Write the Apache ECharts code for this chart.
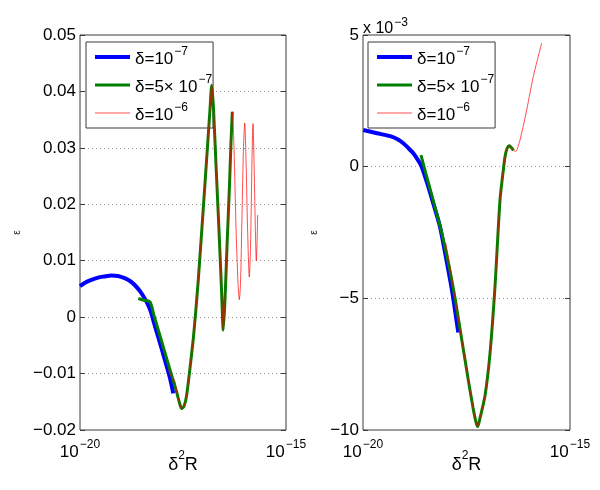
<!DOCTYPE html>
<html><head><meta charset="utf-8">
<script src="https://cdn.jsdelivr.net/npm/echarts@6/dist/echarts.min.js"></script>
<style>html,body{margin:0;padding:0;background:#fff}#c{width:600px;height:490px}</style>
</head><body><div id="c"></div>
<script>
// ---- data (x stored as log10 of δ²R) ----
const seriesNames = ['δ=10^−7', 'δ=5× 10^−7', 'δ=10^−6'];
const xTickExponents = [-20, -15];
const leftYTicks = [-0.02, -0.01, 0, 0.01, 0.02, 0.03, 0.04, 0.05];
const rightYTicks = [-10, -5, 0, 5];   // in units of 1e-3

// left panel
const leftBlueLogX = [-20.000,-19.879,-19.726,-19.563,-19.417,-19.240,-19.078,-18.915,-18.786,-18.672,-18.544,-18.430,-18.350,-18.277,-18.204,-18.131,-18.058,-17.978,-17.888,-17.816,-17.735];
const leftBlueY    = [0.0055,0.0061,0.0066,0.0070,0.0072,0.0074,0.0073,0.0069,0.0064,0.0057,0.0046,0.0033,0.0022,0.0009,-0.0010,-0.0028,-0.0046,-0.0066,-0.0089,-0.0108,-0.0135];
const leftGreenLogX = [-18.585,-18.447,-18.301,-18.204,-18.107,-18.010,-17.913,-17.816,-17.718,-17.646,-17.585,-17.532,-17.476,-17.415,-17.354,-17.306,-17.250,-17.197,-17.129,-17.015,-16.917,-16.845,-16.803,-16.760,-16.699,-16.627,-16.566,-16.522,-16.481,-16.432,-16.371,-16.335,-16.303];
const leftGreenY    = [0.0033,0.0030,0.0027,0.0003,-0.0021,-0.0045,-0.0069,-0.0093,-0.0117,-0.0135,-0.0152,-0.0162,-0.0158,-0.0140,-0.0105,-0.0075,-0.0038,0.0005,0.0066,0.0185,0.0290,0.0368,0.0411,0.0370,0.0270,0.0155,0.0050,-0.0023,0.0030,0.0125,0.0235,0.0310,0.0364];
const leftRedLogX = [-17.864,-17.774,-17.718,-17.682,-17.646,-17.585,-17.532,-17.476,-17.415,-17.354,-17.306,-17.250,-17.197,-17.129,-17.015,-16.917,-16.845,-16.803,-16.760,-16.699,-16.627,-16.566,-16.522,-16.481,-16.432,-16.371,-16.335,-16.303,-16.262,-16.214,-16.165,-16.133,-16.104,-16.068,-16.032,-16.002,-15.971,-15.934,-15.891,-15.862,-15.825,-15.801,-15.777,-15.745,-15.721,-15.704,-15.687];
const leftRedY    = [-0.0093,-0.0106,-0.0110,-0.0118,-0.0135,-0.0152,-0.0162,-0.0158,-0.0140,-0.0105,-0.0075,-0.0038,0.0005,0.0066,0.0185,0.0290,0.0368,0.0411,0.0370,0.0270,0.0155,0.0050,-0.0023,0.0030,0.0125,0.0235,0.0310,0.0364,0.0300,0.0160,0.0060,0.0031,0.0060,0.0180,0.0300,0.0344,0.0280,0.0160,0.0071,0.0120,0.0280,0.0343,0.0280,0.0160,0.0100,0.0130,0.0181];

// right panel (values in units of 1e-3)
const rightBlueLogX = [-19.993,-19.662,-19.307,-19.155,-19.027,-18.913,-18.785,-18.671,-18.582,-18.423,-18.302,-18.140,-17.978,-17.850,-17.698];
const rightBlueY    = [1.39,1.27,1.14,1.03,0.89,0.72,0.51,0.25,0.00,-0.76,-1.40,-2.28,-3.60,-4.70,-6.30];
const rightGreenLogX = [-18.599,-18.478,-18.357,-18.237,-18.116,-17.978,-17.874,-17.778,-17.616,-17.457,-17.343,-17.271,-17.229,-17.174,-17.053,-16.932,-16.812,-16.691,-16.611,-16.570,-16.522,-16.466,-16.413,-16.365];
const rightGreenY    = [0.44,-0.28,-0.98,-1.68,-2.40,-3.35,-4.15,-4.98,-6.55,-8.10,-9.15,-9.70,-9.87,-9.55,-8.70,-7.09,-4.56,-1.27,-0.13,0.38,0.68,0.79,0.72,0.62];
const rightRedLogX = [-18.002,-17.899,-17.778,-17.616,-17.457,-17.343,-17.271,-17.229,-17.174,-17.053,-16.932,-16.812,-16.691,-16.611,-16.570,-16.522,-16.466,-16.413,-16.365,-16.312,-16.256,-16.208,-16.135,-16.046,-15.966,-15.886,-15.797,-15.684];
const rightRedY    = [-2.89,-3.80,-4.98,-6.55,-8.10,-9.15,-9.70,-9.87,-9.55,-8.70,-7.09,-4.56,-1.27,-0.13,0.38,0.68,0.79,0.72,0.62,0.57,0.75,1.01,1.50,2.15,2.80,3.42,4.00,4.69];

// ---- build ----
const pairs = (lx, y) => lx.map((e, i) => [Math.pow(10, e), y[i]]);
const FONT = '"Liberation Sans", Arial, Helvetica, sans-serif';
const colors = ['#0000ff', '#008000', '#ff0000'];
const widths = [4, 3, 0.7];
const BORDER = '#3a3a3a';

const supRich = {
  b: { fontSize: 17, fontFamily: FONT, color: '#000', lineHeight: 22, verticalAlign: 'bottom' },
  s: { fontSize: 12, fontFamily: FONT, color: '#000', lineHeight: 22, verticalAlign: 'top', padding: [0, 0, 0, 1] }
};
const legendFmt = name => {
  const i = name.indexOf('^');
  return '{b|' + name.slice(0, i) + '}{s|' + name.slice(i + 1) + '}';
};

function xAxis(gi) {
  return {
    type: 'log', logBase: 10, gridIndex: gi, min: 1e-20, max: 1e-15,
    axisLine: { show: false }, axisTick: { show: false }, splitLine: { show: false },
    axisLabel: {
      margin: 9,
      formatter: v => {
        const e = Math.round(Math.log10(v));
        return xTickExponents.includes(e) ? '{b|10}{s|' + String(e).replace('-', '−') + '}' : '';
      },
      rich: supRich
    },
    name: '{b|δ}{s|2}{b|R}', nameLocation: 'middle', nameGap: 20, nameMoveOverlap: false,
    nameTextStyle: { rich: {
      b: { fontSize: 18, fontFamily: FONT, color: '#000', lineHeight: 24, verticalAlign: 'bottom' },
      s: { fontSize: 12, fontFamily: FONT, color: '#000', lineHeight: 24, verticalAlign: 'top' }
    } }
  };
}
function yAxis(gi, ticks, fmt, nameGap, pos, main) {
  return {
    type: 'value', gridIndex: gi, position: pos,
    min: ticks[0], max: ticks[ticks.length - 1], interval: ticks[1] - ticks[0],
    axisLine: { show: false },
    axisTick: { show: true, inside: true, length: 5, lineStyle: { color: BORDER } },
    splitLine: main ? { show: true, lineStyle: { type: [1, 3], color: '#9a9a9a', width: 1 } } : { show: false },
    axisLabel: main ? { show: true, margin: 4, fontSize: 17, fontFamily: FONT, color: '#000', formatter: fmt } : { show: false },
    name: main ? 'ε' : '', nameLocation: 'middle', nameRotate: 90, nameGap: nameGap, nameMoveOverlap: false,
    nameTextStyle: { fontSize: 10, fontFamily: FONT, color: '#222' }
  };
}
const lineSeries = (k, xi, yi, d) => ({
  type: 'line', name: seriesNames[k], xAxisIndex: xi, yAxisIndex: yi, data: d,
  symbol: 'none', showSymbol: false, smooth: 0.25, z: 5,
  lineStyle: { color: colors[k], width: widths[k] }, itemStyle: { color: colors[k] },
  emphasis: { disabled: true }, animation: false
});
const legend = (left) => ({
  left: left, top: 42, orient: 'vertical', selectedMode: false, z: 1,
  data: seriesNames, itemWidth: 35, itemHeight: 22, itemGap: 6,
  itemStyle: { opacity: 0 }, lineStyle: { width: 'inherit' },
  backgroundColor: '#fff', borderColor: BORDER, borderWidth: 1, padding: [4, 1, 4, 7],
  formatter: legendFmt, textStyle: { rich: supRich }
});

const gridBase = { show: true, borderColor: BORDER, borderWidth: 1, backgroundColor: 'transparent', containLabel: false, outerBoundsMode: 'none' };
const chart = echarts.init(document.getElementById('c'), null, { renderer: 'canvas' });
chart.setOption({
  animation: false,
  backgroundColor: '#fff',
  grid: [
    Object.assign({ left: 80, top: 35, width: 206, height: 395 }, gridBase),
    Object.assign({ left: 363, top: 35, width: 207, height: 395 }, gridBase)
  ],
  xAxis: [xAxis(0), xAxis(1)],
  yAxis: [
    yAxis(0, leftYTicks, v => v === 0 ? '0' : v.toFixed(2).replace('-', '−'), 58, 'left', true),
    yAxis(1, rightYTicks, v => String(Math.round(v)).replace('-', '−'), 44, 'left', true),
    yAxis(0, leftYTicks, null, 0, 'right', false),
    yAxis(1, rightYTicks, null, 0, 'right', false)
  ],
  legend: [legend(86), legend(368)],
  graphic: [{
    type: 'text', left: 363, top: 17,
    style: { text: '{b|x 10}{s|−3}', rich: {
      b: { fontSize: 16, fontFamily: FONT, fill: '#000', lineHeight: 20, verticalAlign: 'bottom' },
      s: { fontSize: 12, fontFamily: FONT, fill: '#000', lineHeight: 20, verticalAlign: 'top', padding: [0, 0, 0, 1] }
    } }
  }],
  series: [
    lineSeries(0, 0, 0, pairs(leftBlueLogX, leftBlueY)),
    lineSeries(1, 0, 0, pairs(leftGreenLogX, leftGreenY)),
    lineSeries(2, 0, 0, pairs(leftRedLogX, leftRedY)),
    lineSeries(0, 1, 1, pairs(rightBlueLogX, rightBlueY)),
    lineSeries(1, 1, 1, pairs(rightGreenLogX, rightGreenY)),
    lineSeries(2, 1, 1, pairs(rightRedLogX, rightRedY))
  ]
});
</script>
</body></html>
